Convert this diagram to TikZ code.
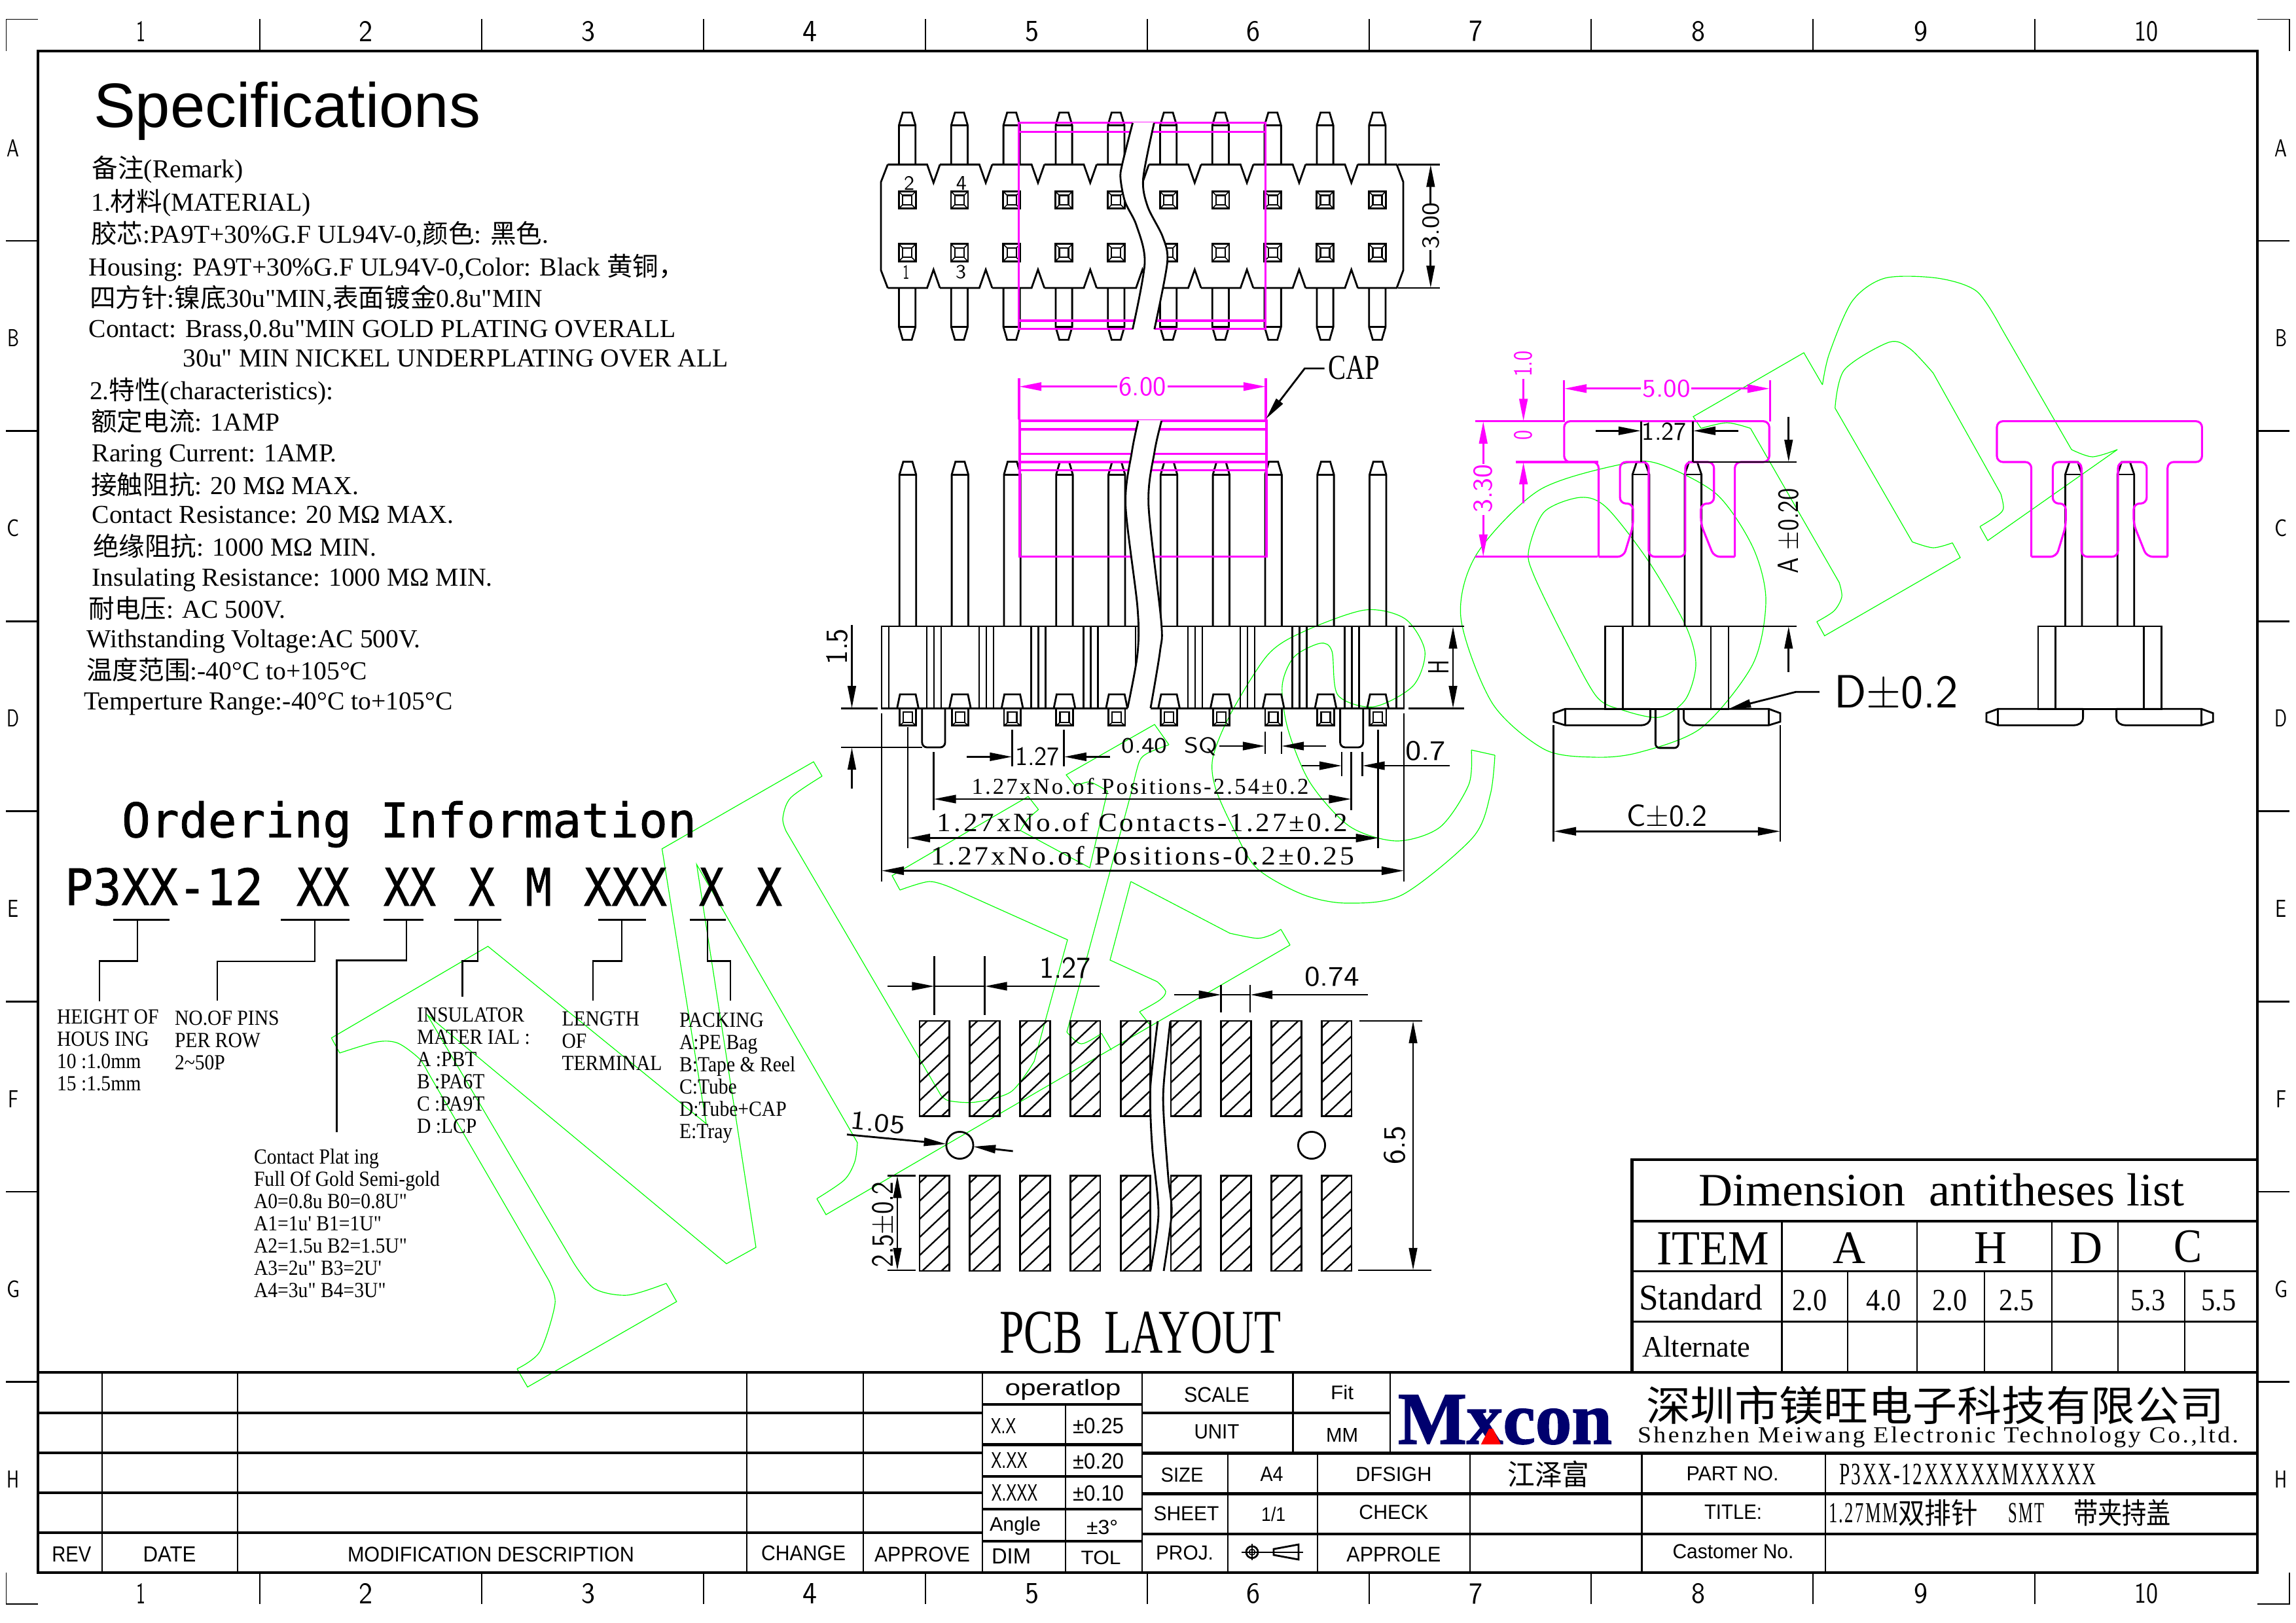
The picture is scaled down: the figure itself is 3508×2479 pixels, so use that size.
\documentclass[tikz,border=0pt]{standalone}
\usepackage{fontspec,graphicx,xcolor}
\usetikzlibrary{arrows.meta}
\setmainfont{Liberation Serif}
\newfontfamily\specfont{Liberation Serif}
\newfontfamily\cjk{Noto Sans CJK SC}
\newfontfamily\arial{Liberation Sans}
\newfontfamily\mono[LetterSpace=9]{Liberation Serif}
\newfontfamily\heimono[FakeBold=1]{DejaVu Sans Mono}
\newfontfamily\narrowserif[FakeStretch=0.9]{Liberation Serif}
\newfontfamily\logofont[BoldFeatures={FakeBold=1.5}]{Liberation Serif}
\definecolor{capmag}{RGB}{255,0,255}
\definecolor{wmgreen}{RGB}{0,255,0}
\definecolor{logonavy}{RGB}{0,0,110}
\newlength\pxu
\setlength\pxu{0.24pt}
\newcommand{\fitbox}[3]{\resizebox*{#1\pxu}{#2\pxu}{#3}}
\tikzset{
  wire/.style={line width=0.68pt},
  heavy/.style={line width=1.05pt},
  thinwire/.style={line width=0.56pt},
  hairline/.style={line width=0.38pt},
  capline/.style={line width=0.75pt,draw=capmag},
  wmark/.style={line width=0.28pt,draw=wmgreen},
  txt/.style={inner sep=0pt,outer sep=0pt},
  dimtxt/.style={txt,font=\sffamily},
  magtxt/.style={txt,font=\sffamily,text=capmag},
  monotxt/.style={txt,font=\mono},
  sanstxt/.style={txt,font=\arial},
  notetxt/.style={txt,anchor=north west,align=left,font=\narrowserif\fontsize{7.9}{8.16}\selectfont},
  spectxt/.style={txt,anchor=base west,font=\specfont\fontsize{9.5}{10}\selectfont},
}
\begin{document}
\begin{tikzpicture}[x=0.24pt,y=-0.24pt,>={Triangle[length=8.2pt,width=3pt]}]
\useasboundingbox (0,0) rectangle (3508,2479);
% watermark
\draw[wmark] (1971,1444) -- (1262,1856) -- (1248,1831.6);
\draw[wmark] plot[smooth] coordinates {(1248,1831.6) (1290,1803) (1306,1775) (1310,1746)};
\draw[wmark] (1310,1746) -- (1064.4,1321) -- (1155,1906) -- (1110,1931) -- (653,1551) -- (876,1929);
\draw[wmark] plot[smooth] coordinates {(876,1929) (908,1969) (959,1979) (1017.9,1961)};
\draw[wmark] (1017.9,1961) -- (1033.8,1988.8) -- (806,2119.4) -- (790,2091.6);
\draw[wmark] plot[smooth] coordinates {(790,2091.6) (825,2065) (848,1992) (838,1955.6)};
\draw[wmark] (838,1955.6) -- (653,1637);
\draw[wmark] plot[smooth] coordinates {(653,1637) (640,1617) (608,1594) (576,1592) (519,1609)};
\draw[wmark] (519,1609) -- (506.4,1586) -- (745.5,1446) -- (1079,1717) -- (1011.5,1297) -- (1243,1164) -- (1256,1186);
\draw[wmark] plot[smooth] coordinates {(1256,1186) (1208,1219) (1196,1250) (1201,1270)};
\draw[wmark] (1201,1270) -- (1437.5,1673.5);
\draw[wmark] plot[smooth] coordinates {(1437.5,1673.5) (1450,1682) (1491,1684) (1545,1668) (1580,1622)};
\draw[wmark] (1580,1622) -- (1631,1436) -- (1455,1357);
\draw[wmark] plot[smooth] coordinates {(1455,1357) (1420,1347) (1375,1360)};
\draw[wmark] (1375,1360) -- (1363,1338) -- (1571,1217) -- (1586.6,1237);
\draw[wmark] plot[smooth] coordinates {(1586.6,1237) (1570,1252) (1559,1269)};
\draw[wmark] (1559,1269) -- (1665,1326) -- (1692,1209);
\draw[wmark] plot[smooth] coordinates {(1692,1209) (1665,1195) (1643,1201.5)};
\draw[wmark] (1643,1201.5) -- (1629,1184) -- (1764,1107) -- (1786,1138);
\draw[wmark] plot[smooth] coordinates {(1786,1138) (1755,1150) (1741,1163) (1730,1205)};
\draw[wmark] (1730,1205) -- (1630,1577);
\draw[wmark] plot[smooth] coordinates {(1630,1577) (1652,1595) (1683,1579)};
\draw[wmark] (1683,1579) -- (1698,1604.6);
\draw[wmark] (1727.7,1347) -- (1879,1426);
\draw[wmark] plot[smooth] coordinates {(1879,1426) (1920,1433.7) (1942,1428.6) (1957,1420)};
\draw[wmark] (1957,1420) -- (1971,1444);
\draw[wmark] (1727.7,1347) -- (1696,1467) -- (1768,1500);
\draw[wmark] plot[smooth] coordinates {(1768,1500) (1781,1515) (1772,1528) (1741,1546)};
\draw[wmark] (1741,1546) -- (1757,1566);
\draw[wmark] plot[smooth cycle] coordinates {(2232,944) (2256,847) (2351.5,749) (2479,709) (2535,709) (2622.6,755) (2678,836) (2698,917) (2678,1015) (2599,1112.5) (2503,1150) (2435,1157) (2359.5,1145) (2280,1074.5)};
\draw[wmark] plot[smooth cycle] coordinates {(2335.6,841) (2359.5,782) (2415,760) (2455,776) (2519,858) (2575,955) (2591,1015) (2575,1069) (2535,1096) (2479,1085) (2439,1064) (2391,977) (2343.5,879)};
\draw[wmark] plot[smooth] coordinates {(2248,1146) (2244,1199) (2200,1264) (2134,1285) (2062,1262.7) (2001.5,1195.7) (1968,1115) (1959,1048) (1977,1004) (2017,983) (2035,995) (2044,1062) (2098.5,1080) (2159,1048) (2177,995) (2147,945.7) (2086,932) (1995,963.6) (1937.5,1000) (1879.5,1092) (1853,1158) (1857,1204) (1884,1265) (1920,1326.5) (1991,1367) (2058,1380) (2143,1367) (2250,1280) (2277,1214) (2284,1154)};
\draw[wmark] (2284,1154) -- (2248,1146);
\draw[wmark] (2784.5,588) -- (2756,539) -- (2587,636.6) -- (2599,654.5);
\draw[wmark] plot[smooth] coordinates {(2599,654.5) (2638.6,646) (2674.5,654.5)};
\draw[wmark] (2674.5,654.5) -- (2810,890);
\draw[wmark] plot[smooth] coordinates {(2810,890) (2814,912) (2802,933.6) (2775.8,950)};
\draw[wmark] (2775.8,950) -- (2787.7,971.5) -- (2995,852) -- (2983,829.5);
\draw[wmark] plot[smooth] coordinates {(2983,829.5) (2953.6,837) (2921.7,828)};
\draw[wmark] (2921.7,828) -- (2803.7,623.6);
\draw[wmark] plot[smooth] coordinates {(2803.7,623.6) (2818,565) (2886,523) (2917.7,532.5) (2953.6,570)};
\draw[wmark] (2953.6,570) -- (3057,754.7);
\draw[wmark] plot[smooth] coordinates {(3057,754.7) (3061,776) (3053,787) (3025,804.6)};
\draw[wmark] (3025,804.6) -- (3037,826) -- (3235,687);
\draw[wmark] plot[smooth] coordinates {(3235,687) (3196.8,698) (3165,687)};
\draw[wmark] (3165,687) -- (3057,500);
\draw[wmark] plot[smooth] coordinates {(3057,500) (3020,445) (2960,425) (2880,425) (2830,460) (2795,540) (2784.5,588)};
% sheet frame
\draw[heavy] (58,78) rectangle (3449,2403);
\draw[hairline] (9.3,78) -- (9.3,29.3) -- (58,29.3);
\draw[hairline] (3449,29.3) -- (3498,29.3) -- (3498,78);
\draw[hairline] (58,2450.7) -- (9.3,2450.7) -- (9.3,2403);
\draw[hairline] (3449,2450.7) -- (3498,2450.7) -- (3498,2403);
\foreach \k in {0,...,8} {
  \draw[wire] ({397+339*\k},29.3) -- ({397+339*\k},78);
  \draw[wire] ({397+339*\k},2403) -- ({397+339*\k},2450.7);
}
\foreach \k in {0,...,6} {
  \draw[wire] (9.3,{368+290.6*\k}) -- (58,{368+290.6*\k});
  \draw[wire] (3449,{368+290.6*\k}) -- (3498,{368+290.6*\k});
}
\foreach \x/\n/\w [count=\i] in {215/1/14,559/2/21,899/3/21,1237/4/22,1577/5/21,1915/6/21,2255/7/21,2595/8/21,2935/9/21,3279/10/36} {
  \node[dimtxt] (coltop\i) at (\x,48) {\fitbox{\w}{31}{\n}};
  \node[dimtxt] (colbot\i) at (\x,2435) {\fitbox{\w}{31}{\n}};
}
\foreach \n/\w [count=\i] in {A/19,B/18,C/19,D/19,E/17,F/16,G/20,H/19} {
  \node[dimtxt] (rowl\i) at (20.3,{226+290.6*(\i-1)}) {\fitbox{\w}{26}{\n}};
  \node[dimtxt] (rowr\i) at (3485,{226+290.6*(\i-1)}) {\fitbox{\w}{26}{\n}};
}
% specifications
\node[txt,anchor=base west,font=\arial\fontsize{23}{24}\selectfont] (spectitle) at (143,195) {Specifications};
\foreach \x/\y/\t [count=\i] in {
  140.7/272/{{\cjk 备注}(Remark)},
  139.3/322/{1.{\cjk 材料}(MATERIAL)},
  139.3/371.6/{{\cjk 胶芯}:PA9T+30\%G.F UL94V-0,{\cjk 颜色}: {\cjk 黑色}.},
  135.8/421/{Housing: PA9T+30\%G.F UL94V-0,Color: Black {\cjk 黄铜，}},
  137/469.7/{{\cjk 四方针}:{\cjk 镍底}30u"MIN,{\cjk 表面镀金}0.8u"MIN},
  135.8/515.5/{Contact: Brass,0.8u"MIN GOLD PLATING OVERALL},
  279.6/560.6/{30u" MIN NICKEL UNDERPLATING OVER ALL},
  137/610/{2.{\cjk 特性}(characteristics):},
  139.3/658.7/{{\cjk 额定电流}: 1AMP},
  140.7/705/{Raring Current: 1AMP.},
  139.3/755/{{\cjk 接触阻抗}: 20 MΩ MAX.},
  140.7/799/{Contact Resistance: 20 MΩ MAX.},
  142/849/{{\cjk 绝缘阻抗}: 1000 MΩ MIN.},
  140.7/895.4/{Insulating Resistance: 1000 MΩ MIN.},
  135.8/944/{{\cjk 耐电压}: AC 500V.},
  132.3/989.6/{Withstanding Voltage:AC 500V.},
  132.3/1038/{{\cjk 温度范围}:-40°C to+105°C},
  128/1084/{Temperture Range:-40°C to+105°C}} {
  \node[spectxt] (spec\i) at (\x,\y) {\t};
}
% ordering information
\node[txt,font=\heimono] (ordertitle) at (625,1259.5) {\fitbox{878}{71}{Ordering Information}};
\foreach \x/\w/\t [count=\i] in {250.5/303/P3XX-12,493.5/81/XX,626/80/XX,736/40/X,823/40/M,955.5/127/XXX,1087/38/X,1175/40/X} {
  \node[txt,font=\heimono] (partcode\i) at (\x,1355) {\fitbox{\w}{58}{\t}};
}
\draw[wire] (173,1405.4) -- (259,1405.4);
\draw[wire] (210,1405.4) -- (210,1468.7) -- (152,1468.7) -- (152,1530.4);
\draw[wire] (429,1405.4) -- (534,1405.4);
\draw[wire] (481,1405.4) -- (481,1469) -- (332,1469) -- (332,1529);
\draw[wire] (586,1405.4) -- (647,1405.4);
\draw[wire] (621,1405.4) -- (621,1467.7) -- (514.5,1467.7) -- (514.5,1730);
\draw[wire] (694,1405.4) -- (766,1405.4);
\draw[wire] (730,1405.4) -- (730,1468.7) -- (706.7,1468.7) -- (706.7,1522.6);
\draw[wire] (914,1405.4) -- (987,1405.4);
\draw[wire] (950,1405.4) -- (950,1468.7) -- (906,1468.7) -- (906,1529);
\draw[wire] (1054,1405.4) -- (1109,1405.4);
\draw[wire] (1081,1405.4) -- (1081,1468.7) -- (1116,1468.7) -- (1116,1529);
\node[notetxt] (noteheight) at (87,1543) {HEIGHT OF\\HOUS ING\\ 10 :1.0mm\\ 15 :1.5mm};
\node[notetxt] (notepins) at (267,1545) {NO.OF PINS\\PER ROW\\2\textasciitilde 50P};
\node[notetxt] (noteinsul) at (637,1540) {INSULATOR\\MATER IAL :\\A :PBT\\B :PA6T\\C :PA9T\\D :LCP};
\node[notetxt] (notelength) at (858.5,1545.5) {LENGTH\\OF\\TERMINAL};
\node[notetxt] (notepack) at (1038,1547.6) {PACKING\\A:PE Bag\\B:Tape \& Reel\\C:Tube\\D:Tube+CAP\\ E:Tray};
\node[notetxt] (noteplate) at (388,1756) {Contact Plat ing\\Full Of Gold Semi-gold\\A0=0.8u B0=0.8U"\\A1=1u' B1=1U"\\A2=1.5u B2=1.5U"\\A3=2u" B3=2U'\\A4=3u" B4=3U"};
% top view
\foreach \i in {0,...,9} {
  \begin{scope}[shift={({1386.1+79.8*\i},0)}]
    \draw[wire] (-12.6,251.4) -- (-12.6,191.4) -- (-6.9,172) -- (6.9,172) -- (12.6,191.4) -- (12.6,251.4);
    \draw[wire] (-12.6,191.4) -- (12.6,191.4);
    \draw[wire] (-12.6,440) -- (-12.6,499.6) -- (-6.9,519.3) -- (6.9,519.3) -- (12.6,499.6) -- (12.6,440);
    \draw[wire] (-12.6,499.6) -- (12.6,499.6);
    \foreach \yy in {292.5,372.9} {
      \draw[wire] (-13,\yy) rectangle (13,{\yy+26.4});
      \draw[thinwire] (-7,{\yy+6}) rectangle (7,{\yy+20.4});
      \draw[hairline] (-13,\yy) -- (-7,{\yy+6}) (13,\yy) -- (7,{\yy+6}) (-13,{\yy+26.4}) -- (-7,{\yy+20.4}) (13,{\yy+26.4}) -- (7,{\yy+20.4});
    }
  \end{scope}
}
\foreach \i in {0,...,8} {
  \begin{scope}[shift={({1386.1+79.8*\i},0)}]
    \draw[wire] (-29.8,251.4) -- (30.4,251.4) -- (40.2,279.3) -- (50,251.4);
    \draw[wire] (-29.8,440) -- (30.4,440) -- (40.2,412) -- (50,440);
  \end{scope}
}
\draw[wire] (2074.4,251.4) -- (2134,251.4) -- (2144,278) -- (2144,413) -- (2134,440) -- (2074.4,440);
\draw[wire] (1356.3,251.4) -- (1346,278) -- (1346,413) -- (1356.3,440);
\draw[capline] (1556.6,187.9) rectangle (1933.2,502.5);
\draw[capline] (1556.6,201.4) -- (1933.2,201.4) (1556.6,490) -- (1933.2,490);
\fill[white] plot[smooth] coordinates {(1730.5,187) (1714.5,251.4) (1712,272.9) (1719,308.6) (1736.3,344.3) (1749,401.4) (1730.5,504)} -- plot[smooth] coordinates {(1763.8,504) (1783.4,401.4) (1776.5,362) (1753.5,315.7) (1746.6,272.9) (1763.3,187)} -- cycle;
\draw[wire] plot[smooth] coordinates {(1730.5,187.9) (1714.5,251.4) (1712,272.9) (1719,308.6) (1736.3,344.3) (1749,401.4) (1730.5,503)};
\draw[wire] plot[smooth] coordinates {(1763.3,187.9) (1746.6,272.9) (1753.5,315.7) (1776.5,362) (1783.4,401.4) (1763.8,503)};
\node[dimtxt] (pin2) at (1389,280) {\fitbox{16}{21}{2}};
\node[dimtxt] (pin4) at (1468.8,280) {\fitbox{16}{21}{4}};
\node[dimtxt] (pin1) at (1384.4,415.7) {\fitbox{10}{21}{1}};
\node[dimtxt] (pin3) at (1468,415.7) {\fitbox{16}{21}{3}};
\draw[wire] (2136,251.4) -- (2200,251.4) (2136,440) -- (2200,440);
\draw[wire,->] (2185.8,312) -- (2185.8,251.4);
\draw[wire,->] (2185.8,382) -- (2185.8,440);
\node[dimtxt,rotate=90] (dimthree) at (2186,345) {\fitbox{71}{26}{3.00}};
\draw[capline] (1557,578) -- (1557,640.7) (1934,578) -- (1934,640.7);
\draw[capline,->] (1707,590.7) -- (1557,590.7);
\draw[capline,->] (1784,590.7) -- (1934,590.7);
\node[magtxt] (dimsix) at (1745.5,590.7) {\fitbox{72}{29}{6.00}};
\node[txt] (captag) at (2069,562) {\fitbox{79}{36}{CAP}};
\coordinate (captip) at (1934.3,640);
\draw[wire,->] (captag.west) ++(-6,1) -- (1993.4,563) -- (captip);
% front view
\foreach \i in {0,...,9} {
  \begin{scope}[shift={({1387+79.8*\i},0)}]
    \draw[wire] (-12.7,957) -- (-12.7,725.2) -- (-7,705.5) -- (7,705.5) -- (12.7,725.2) -- (12.7,957);
    \draw[wire] (-12.7,725.2) -- (12.7,725.2);
    \draw[wire] (-16.4,1082.3) -- (-12,1061) -- (12,1061) -- (16.4,1082.3);
    \draw[wire] (-12.7,1082.3) rectangle (12.7,1108.7);
    \draw[thinwire] (-7,1087.7) rectangle (7,1104);
    \draw[hairline] (-12.7,1108.7) -- (-7,1104) (12.7,1108.7) -- (7,1104);
  \end{scope}
}
\foreach \i in {0,...,8} {
  \draw[thinwire] ({1416+79.8*\i},957) -- ({1416+79.8*\i},1082.3);
  \draw[thinwire] ({1427+79.8*\i},957) -- ({1427+79.8*\i},1082.3);
  \draw[thinwire] ({1438+79.8*\i},957) -- ({1438+79.8*\i},1082.3);
}
\draw[thinwire] (1358,957) -- (1358,1082.3) (2133.6,957) -- (2133.6,1082.3);
\draw[wire] (1347,957) rectangle (2145,1082.3);
\draw[wire,rounded corners=1.8pt] (1408.8,1082.3) -- (1408.8,1142) -- (1444,1142) -- (1444,1082.3);
\draw[wire,rounded corners=1.8pt] (2047.6,1082.3) -- (2047.6,1142) -- (2082.7,1142) -- (2082.7,1082.3);
\draw[capline] (1558,643) rectangle (1935,850.6);
\foreach \yy in {656,693.5,706,718.5} {
  \draw[capline] (1558,\yy) -- (1935,\yy);
}
\fill[white] plot[smooth] coordinates {(1739,642) (1729.4,690) (1719.7,771.6) (1737.9,927.9) (1737.9,999.3) (1722.7,1084)} -- plot[smooth] coordinates {(1757.9,1084) (1772.4,994.8) (1774.2,950) (1754.8,771.6) (1764,690) (1774.7,642)} -- cycle;
\draw[wire] plot[smooth] coordinates {(1739,643) (1729.4,690) (1719.7,771.6) (1737.9,927.9) (1737.9,999.3) (1722.7,1082)};
\draw[wire] plot[smooth] coordinates {(1774.7,643) (1764,690) (1754.8,771.6) (1774.2,950) (1772.4,994.8) (1757.9,1082)};
% front view dimensions
\draw[wire] (1285,1082.3) -- (1341,1082.3) (1285,1142) -- (1409,1142);
\draw[wire,->] (1301.5,954.6) -- (1301.5,1082.3);
\draw[wire,->] (1301.5,1204.6) -- (1301.5,1142);
\node[dimtxt,rotate=90] (dimfifteen) at (1279,988) {\fitbox{55}{33}{1.5}};
\draw[wire] (1546.4,1115) -- (1546.4,1171) (1625.8,1115) -- (1625.8,1171);
\draw[wire,->] (1477,1156.4) -- (1546.4,1156.4);
\draw[wire,->] (1695.5,1156.4) -- (1625.8,1156.4);
\node[dimtxt] (dimpitch) at (1585,1156) {\fitbox{68}{28}{1.27}};
\node[dimtxt] (dimsq) at (1787,1140.8) {\fitbox{147}{28}{0.40\ \ SQ}};
\draw[wire] (1933,1117.6) -- (1933,1152.4) (1958,1117.6) -- (1958,1152.4);
\draw[wire,->] (1863,1140) -- (1933,1140);
\draw[wire,->] (2026,1140) -- (1958,1140);
\node[dimtxt] (dimseven) at (2178,1147) {\fitbox{62}{30}{0.7}};
\draw[wire] (2050,1149) -- (2050,1186) (2081.5,1149) -- (2081.5,1186);
\draw[wire,->] (1989,1170) -- (2050,1170);
\draw[wire,->] (2215,1170) -- (2081.5,1170);
\draw[wire] (1347,1090) -- (1347,1346.6) (2145,1090) -- (2145,1346.6);
\draw[wire] (1387,1111) -- (1387,1296) (2105.8,1115) -- (2105.8,1296);
\draw[wire] (1426.4,1149) -- (1426.4,1238) (2064.5,1149) -- (2064.5,1238);
\draw[wire,<->] (1426.4,1221) -- (2064.5,1221);
\draw[wire,<->] (1387,1280.5) -- (2105.8,1280.5);
\draw[wire,<->] (1347,1330.5) -- (2145,1330.5);
\node[monotxt] (formulaa) at (1742,1201.5) {\fitbox{515}{25}{1.27xNo.of Positions-2.54±0.2}};
\node[monotxt] (formulab) at (1745.5,1257) {\fitbox{627}{29}{1.27xNo.of Contacts-1.27±0.2}};
\node[monotxt] (formulac) at (1746,1307.6) {\fitbox{647}{29}{1.27xNo.of Positions-0.2±0.25}};
\draw[wire] (2152,957) -- (2237,957) (2152,1082.3) -- (2237,1082.3);
\draw[wire,<->] (2220,957) -- (2220,1082.3);
\node[dimtxt,rotate=90] (dimheight) at (2198,1019) {\fitbox{22}{31}{H}};
% side views
\begin{scope}[shift={(2200,500)},x=0.1914pt,y=-0.1301pt]
  \foreach \dx in {0,829} {
    \begin{scope}[shift={(\dx,0)}]
      \foreach \cx in {385,485} {
        \draw[wire] ({\cx-16},843) -- ({\cx-16},415) -- ({\cx-8},380) -- ({\cx+8},380) -- ({\cx+16},415) -- ({\cx+16},843);
        \draw[wire] ({\cx-16},415) -- ({\cx+16},415);
      }
      \draw[wire] (317,843) rectangle (553,1076);
      \draw[wire] (350,843) -- (350,1076) (519,843) -- (519,1076);
      \draw[wire] (403,1076) -- (403,1100) .. controls (403,1115) and (395,1122) .. (385,1122) -- (240,1122) -- (218,1112) -- (218,1088) -- (240,1076) -- (403,1076);
      \draw[wire] (240,1076) -- (240,1122);
      \draw[wire] (467,1076) -- (467,1100) .. controls (467,1115) and (475,1122) .. (485,1122) -- (630,1122) -- (652,1112) -- (652,1088) -- (630,1076) -- (467,1076);
      \draw[wire] (630,1076) -- (630,1122);
      \draw[capline,rounded corners=2.2pt] (304,647) -- (304,380) -- (238,380) -- (238,265) -- (631,265) -- (631,380) -- (565,380) -- (565,647);
      \draw[capline,rounded corners=2.2pt] (304,647) -- (352,647) -- (370,560) -- (370,497) -- (345,497) -- (345,380) -- (400,380) -- (400,647) -- (470,647) -- (470,380) -- (525,380) -- (525,497) -- (500,497) -- (500,555) -- (525,647) -- (565,647);
    \end{scope}
  }
  \draw[wire,rounded corners=1.5pt] (413,1076) -- (413,1186) -- (457,1186) -- (457,1076);
  % cap dimensions
  \draw[capline] (68,265) -- (240,265) (145,380) -- (304,380) (68,647) -- (302,647);
  \draw[capline] (238,150) -- (238,265) (632,150) -- (632,265);
  \draw[capline,->] (385,173) -- (238,173);
  \draw[capline,->] (482,173) -- (632,173);
  \draw[capline,->] (83,385) -- (83,265);
  \draw[capline,->] (83,530) -- (83,647);
  \draw[capline,->] (160,145) -- (160,265);
  \draw[capline,->] (160,497) -- (160,380);
  \node[magtxt] (dimcapw) at (434,173) {\fitbox{73}{27}{5.00}};
  \node[magtxt,rotate=90] (dimcaph) at (83,455) {\fitbox{74}{29}{3.30}};
  \node[magtxt,rotate=90] (dimone) at (160,103) {\fitbox{39}{28}{1.0}};
  \node[magtxt,rotate=90] (dimzero) at (160,305) {\fitbox{15}{28}{0}};
  \draw[wire] (385,265) -- (385,380) (485,265) -- (485,380);
  \draw[wire,->] (298,292) -- (385,292);
  \draw[wire,->] (572,292) -- (485,292);
  \node[dimtxt] (dimrow) at (430,295) {\fitbox{68}{27}{1.27}};
  \draw[wire] (485,380) -- (683,380) (553,843) -- (683,843);
  \draw[wire,->] (668,253) -- (668,380);
  \draw[wire,->] (668,972) -- (668,843);
  \node[dimtxt,rotate=90] (dima) at (667,575) {\fitbox{130}{32}{A ±0.20}};
  \node[dimtxt] (dimd) at (874,1029) {\fitbox{190}{51}{D±0.2}};
  \coordinate (dtip) at (553,1076);
  \draw[wire,->] (727,1028) -- (682,1028) -- (dtip);
  \draw[wire] (218,1122) -- (218,1450) (652,1122) -- (652,1450);
  \draw[wire,<->] (218,1421) -- (652,1421);
  \node[dimtxt] (dimc) at (435,1378) {\fitbox{123}{34}{C±0.2}};
\end{scope}
% pcb layout
\foreach \i in {0,...,8} {
  \foreach \yy in {1560,1796.4} {
    \begin{scope}[shift={({1405+76.8*\i},\yy)}]
      \begin{scope}
        \clip (0,0) rectangle (45.5,145.5);
        \foreach \k in {0,...,6} {
          \draw[thinwire] (0,{11+27.7*\k}) -- (45.5,{-32+27.7*\k});
        }
      \end{scope}
      \draw[wire] (0,0) rectangle (45.5,145.5);
    \end{scope}
  }
}
\draw[wire] plot[smooth] coordinates {(1768.8,1560.4) (1757.9,1657) (1757.9,1705.5) (1761,1760) (1770,1855) (1757.9,1941)};
\draw[wire] plot[smooth] coordinates {(1788,1560.4) (1778,1657) (1778,1705.5) (1785,1799.6) (1790,1855) (1778,1942)};
\draw[wire] (1466.4,1750) circle (20.6);
\draw[wire] (2004,1750) circle (20.6);
\draw[wire] (1427.6,1460.7) -- (1427.6,1550.5) (1504.5,1460.7) -- (1504.5,1550.5);
\draw[wire,->] (1356,1507) -- (1427.6,1507);
\draw[wire,->] (1680,1507) -- (1504.5,1507);
\draw[wire] (1427.6,1507) -- (1504.5,1507);
\node[dimtxt] (padpitch) at (1627.6,1479) {\fitbox{79}{32}{1.27}};
\draw[wire] (1865.8,1505) -- (1865.8,1547) (1910,1505) -- (1910,1547);
\draw[wire,->] (1794,1520) -- (1865.8,1520);
\draw[wire,->] (2090,1520) -- (1910,1520);
\draw[wire] (1865.8,1520) -- (1910,1520);
\node[dimtxt] (padwidth) at (2035,1492) {\fitbox{84}{30}{0.74}};
\draw[wire] (2077,1560) -- (2173,1560) (2075,1941) -- (2187,1941);
\draw[wire,<->] (2159,1560) -- (2159,1941);
\node[dimtxt,rotate=90] (padspan) at (2130.6,1750) {\fitbox{59}{33}{6.5}};
\draw[wire] (1356,1796.4) -- (1399,1796.4) (1356,1941) -- (1399,1941);
\draw[wire,<->] (1371,1796.4) -- (1371,1941);
\node[dimtxt,rotate=90] (padlen) at (1349,1871) {\fitbox{130}{33}{2.5±0.2}};
\draw[wire,->] (1294,1733.6) -- (1445.8,1748);
\draw[wire,->] (1547.6,1759) -- (1487,1752);
\node[dimtxt,rotate=-6] (holedia) at (1341.5,1716) {\fitbox{83}{28}{1.05}};
\node[txt] (pcbtitle) at (1742,2036) {\fitbox{430}{64}{PCB\ \ LAYOUT}};
% dimension table
\draw[heavy] (2493.6,1771.7) rectangle (3449,2096.7);
\draw[heavy] (2493.6,1866) -- (3449,1866);
\draw[wire] (2493.6,1942.3) -- (3449,1942.3) (2493.6,2019.3) -- (3449,2019.3);
\foreach \x in {2722.5,2929,3135,3236} {
  \draw[wire] (\x,1866) -- (\x,2096.7);
}
\foreach \x in {2823,3032,3338} {
  \draw[wire] (\x,1942.3) -- (\x,2096.7);
}
\node[txt] (listtitle) at (2966,1818) {\fitbox{742}{50}{Dimension\ \ antitheses list}};
\node[txt] (hitem) at (2617,1907.5) {\fitbox{172}{49}{ITEM}};
\node[txt] (ha) at (2825,1907) {\fitbox{50}{47}{A}};
\node[txt] (hh) at (3041,1907) {\fitbox{50}{47}{H}};
\node[txt] (hd) at (3187.5,1907) {\fitbox{50}{47}{D}};
\node[txt] (hc) at (3342.5,1905) {\fitbox{43}{49}{C}};
\node[txt] (rstd) at (2598.5,1982.5) {\fitbox{189}{39}{Standard}};
\node[txt] (ralt) at (2592,2057.5) {\fitbox{165}{32}{Alternate}};
\foreach \x/\t [count=\i] in {2765/2.0,2878/4.0,2979/2.0,3081/2.5,3282/5.3,3390/5.5} {
  \node[txt] (stdval\i) at (\x,1987) {\fitbox{53}{32}{\t}};
}
% title block
\draw[heavy] (58,2097) -- (3449,2097);
\foreach \yy in {2158.7,2220,2281,2342} {
  \draw[heavy] (58,\yy) -- (1501,\yy);
}
\foreach \x in {156,363,1141,1319,1501} {
  \draw[wire] (\x,2097) -- (\x,2403);
}
\draw[wire] (1628,2145.7) -- (1628,2403);
\draw[wire] (1745,2097) -- (1745,2403);
\foreach \yy in {2145.7,2207.3,2256,2306,2355} {
  \draw[heavy] (1501,\yy) -- (1745,\yy);
}
\draw[heavy] (1745,2159) -- (2124,2159);
\draw[wire] (1975.5,2097) -- (1975.5,2220) (2124,2097) -- (2124,2220);
\foreach \yy in {2220.3,2282.3,2344} {
  \draw[heavy] (1745,\yy) -- (3449,\yy);
}
\foreach \x in {1876,2013,2246,2508.5,2789} {
  \draw[wire] (\x,2220.3) -- (\x,2403);
}
\foreach \x/\y/\w/\h/\t [count=\i] in {
  109.4/2375/60/23/REV, 259/2375/81/23/DATE, 750/2375/438/23/MODIFICATION DESCRIPTION,
  1227.6/2373/129/23/CHANGE, 1409/2375/146/23/APPROVE, 1624/2124/177/32/operatlop,
  1533/2179/39/23/X.X, 1678/2179/78/24/±0.25, 1542/2231.7/56/24/X.XX, 1678/2233/78/24/±0.20,
  1550/2281/71/25/X.XXX, 1678/2281.7/78/24/±0.10, 1551/2331.7/78/28/Angle, 1684/2334/48/22/±3°,
  1545/2377.7/60/23/DIM, 1682/2380/61/21/TOL, 1859/2131.7/100/23/SCALE, 2050.5/2128/35/22/Fit,
  1859/2188/69/22/UNIT, 2050.5/2192.7/49/21/MM, 1806/2254/65/22/SIZE, 1943/2252.7/35/22/A4,
  2129.4/2252.7/116/22/DFSIGH, 2647/2252/141/22/PART NO., 1812.5/2312.7/100/22/SHEET,
  1945.7/2314/37/22/{1/1}, 2129.4/2311/106/22/CHECK, 2648/2310.7/88/22/TITLE:, 1810/2373/88/22/PROJ.,
  2129.4/2375/144/23/APPROLE, 2648/2371/185/22/Castomer No.} {
  \node[sanstxt] (block\i) at (\x,\y) {\fitbox{\w}{\h}{\t}};
}
\node[txt,font=\cjk] (designer) at (2366,2252.7) {\fitbox{125}{41}{江泽富}};
\node[monotxt] (partno) at (3006.5,2252.7) {\fitbox{393}{32}{P3XX-12XXXXXMXXXXX}};
\node[monotxt,anchor=west] (titlea) at (2794,2312) {\fitbox{106}{30}{1.27MM}};
\node[txt,font=\cjk,anchor=west] (titleb) at (2900,2311.5) {\fitbox{122}{41}{双排针}};
\node[monotxt] (titlec) at (3096,2312) {\fitbox{55}{30}{SMT}};
\node[txt,font=\cjk] (titled) at (3242.5,2311.5) {\fitbox{149}{41}{带夹持盖}};
\node[txt,font=\logofont\bfseries,text=logonavy] (logo) at (2299.5,2169.5) {\fitbox{327}{75}{Mxcon}};
\fill[red] (2262.7,2207) -- (2275,2183) -- (2281,2183) -- (2293,2207) -- cycle;
\node[txt,font=\cjk] (companycn) at (2956.5,2147.5) {\fitbox{883}{59}{深圳市镁旺电子科技有限公司}};
\node[monotxt] (companyen) at (2961,2196) {\fitbox{918}{32}{Shenzhen Meiwang Electronic Technology Co.,ltd.}};
\draw[hairline] (1896.6,2371.7) -- (1991,2371.7);
\draw[hairline] (1913,2359) -- (1913,2384);
\draw[wire] (1913,2371.7) circle (9);
\draw[hairline] (1913,2371.7) circle (4.5);
\draw[wire] (1946,2367) -- (1984,2360) -- (1984,2383) -- (1946,2376) -- cycle;
\end{tikzpicture}
\end{document}
